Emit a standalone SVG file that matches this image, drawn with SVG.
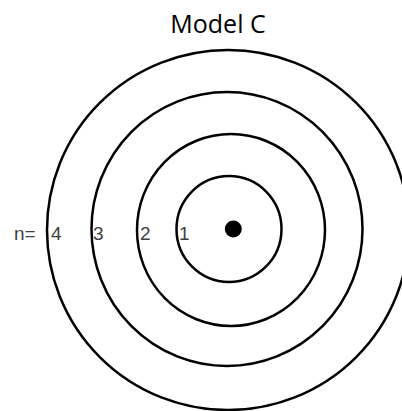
<svg xmlns="http://www.w3.org/2000/svg" width="402" height="411" viewBox="0 0 402 411">
<style>
.ring{fill:none;stroke:#000;stroke-width:2.5}
.lbl{font-family:"Liberation Sans",Arial,sans-serif;font-size:19px;fill:#404040}
.title{font-family:"Open Sans","Liberation Sans",sans-serif;font-size:25px;fill:#000}
</style>
<rect width="402" height="411" fill="#fff"/>
<text class="title" x="218" y="33" text-anchor="middle">Model C</text>
<g id="ring4"><ellipse class="ring" cx="228" cy="230" rx="181" ry="180"/></g>
<g id="ring3"><ellipse class="ring" cx="227" cy="229" rx="135.5" ry="137"/></g>
<g id="ring2"><ellipse class="ring" cx="231" cy="230" rx="94" ry="96"/></g>
<g id="ring1"><ellipse class="ring" cx="229" cy="229" rx="52.5" ry="53"/></g>
<g id="nucleus"><circle cx="233.3" cy="229" r="8.5" fill="#000"/></g>
<g id="labels">
<text class="lbl" x="14" y="240">n=</text>
<text class="lbl" x="51" y="240">4</text>
<text class="lbl" x="93" y="240">3</text>
<text class="lbl" x="140" y="240">2</text>
<text class="lbl" x="179" y="240">1</text>
</g>
</svg>
